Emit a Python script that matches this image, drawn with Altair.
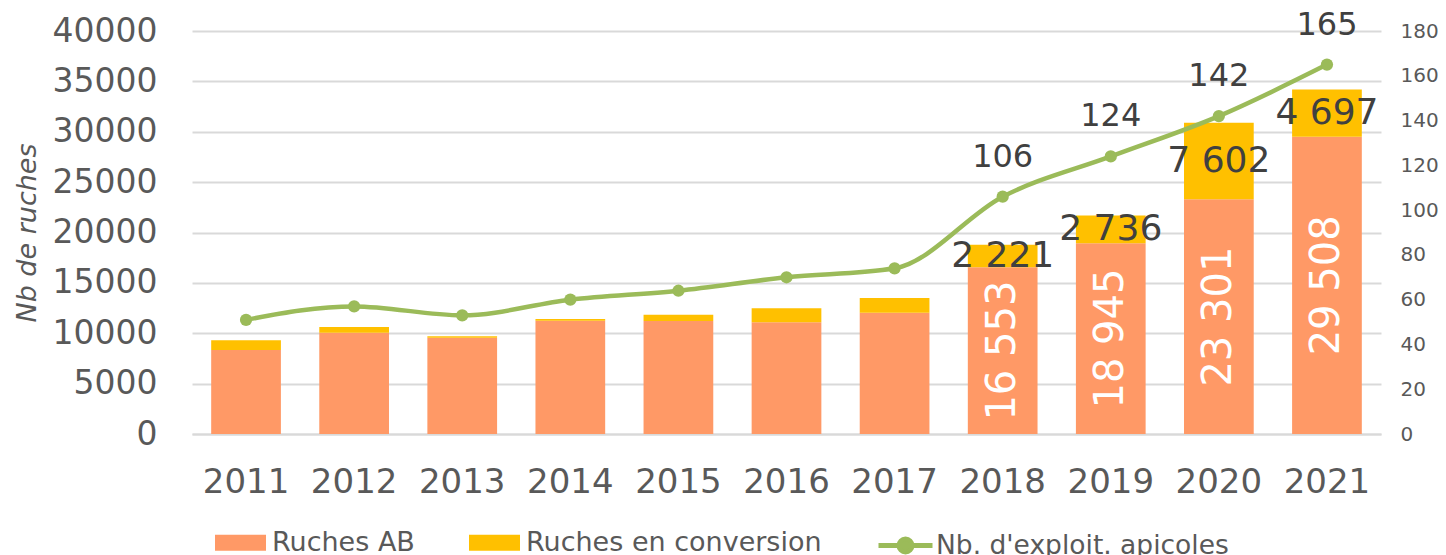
import altair as alt
import pandas as pd

years = [2011, 2012, 2013, 2014, 2015, 2016, 2017, 2018, 2019, 2020, 2021]
ruches_ab = [8340, 10060, 9560, 11250, 11220, 11090, 12040, 16553, 18945, 23301, 29508]
ruches_conv = [960, 560, 140, 160, 620, 1390, 1460, 2221, 2736, 7602, 4697]
exploitations = [51, 57, 53, 60, 64, 70, 74, 106, 124, 142, 165]
labelled_years = [2018, 2019, 2020, 2021]

series_bars = ["Ruches AB", "Ruches en conversion"]
series_line = "Nb. d'exploit. apicoles"

ORANGE = "#FF9966"
YELLOW = "#FFC000"
GREEN = "#9BBB59"
GREY_TXT = "#595959"
DARK_TXT = "#404040"
GRID = "#D9D9D9"
FONT = "DejaVu Sans"


def fmt(v):
    return f"{v:,}".replace(",", " ")


rows = []
for y, a, c in zip(years, ruches_ab, ruches_conv):
    show = y in labelled_years
    rows.append(dict(year=str(y), serie=series_bars[0], start=0, end=a,
                     mid=a / 2, label=fmt(a) if show else ""))
    rows.append(dict(year=str(y), serie=series_bars[1], start=a, end=a + c,
                     mid=a + c / 2, label=fmt(c) if show else ""))
bars_df = pd.DataFrame(rows)

line_df = pd.DataFrame(dict(
    year=[str(y) for y in years],
    n=exploitations,
    serie=[series_line] * len(years),
    label=[str(v) if y in labelled_years else "" for y, v in zip(years, exploitations)],
))

x_axis = alt.Axis(title=None, labelAngle=0, labelFontSize=34, labelFont=FONT,
                  labelColor=GREY_TXT, labelPadding=31, ticks=False, domain=True,
                  domainColor=GRID, domainWidth=2, grid=False)
x_scale = alt.Scale(paddingInner=0.355, paddingOuter=0.1775)


def xenc():
    return alt.X("year:N", scale=x_scale, axis=x_axis, sort=[str(y) for y in years])


yscale_l = alt.Scale(domain=[0, 40000], nice=False)
yscale_r = alt.Scale(domain=[0, 180], nice=False)

y_axis_l = alt.Axis(
    values=list(range(0, 40001, 5000)), format="d", labelFontSize=33,
    labelFont=FONT, labelColor=GREY_TXT, labelPadding=35, ticks=False,
    domain=False, grid=True, gridColor=GRID, gridWidth=2,
    title="Nb de ruches", titleFontStyle="italic", titleFontSize=27,
    titleFont=FONT, titleColor=GREY_TXT, titleFontWeight="normal",
    titleX=-165, titleY=201.5, titleAngle=270, titleAlign="center",
    titleBaseline="middle")

y_axis_r = alt.Axis(
    orient="right", values=list(range(0, 181, 20)), labelFontSize=20,
    labelFont=FONT, labelColor=GREY_TXT, labelPadding=19, ticks=False,
    domain=False, grid=False, title=None)

rect_path = "M-1,-0.3137L1,-0.3137L1,0.3137L-1,0.3137Z"
line_path = ("M-1,0L1,0M-0.24,0A0.24,0.24,0,1,1,0.24,0"
             "A0.24,0.24,0,1,1,-0.24,0Z")

bars = alt.Chart(bars_df).mark_bar().encode(
    x=xenc(),
    y=alt.Y("start:Q", scale=yscale_l, axis=y_axis_l),
    y2="end:Q",
    fill=alt.Fill("serie:N", scale=alt.Scale(domain=series_bars, range=[ORANGE, YELLOW]),
                  legend=alt.Legend(title=None, orient="none", legendX=23, legendY=486,
                                    direction="horizontal", symbolType=rect_path,
                                    symbolSize=2601, symbolStrokeWidth=0,
                                    labelFontSize=27, labelFont=FONT, labelColor=GREY_TXT,
                                    labelOffset=6, columnPadding=54, padding=0,
                                    labelLimit=0)),
    order=alt.Order("serie:N"),
)

ab_text = alt.Chart(bars_df).transform_filter(
    alt.datum.serie == series_bars[0]
).mark_text(angle=270, color="white", fontSize=40, font=FONT,
            baseline="middle", align="center").encode(
    x=xenc(), y=alt.Y("mid:Q", scale=yscale_l, axis=y_axis_l), text="label:N")

conv_text = alt.Chart(bars_df).transform_filter(
    alt.datum.serie == series_bars[1]
).mark_text(color=DARK_TXT, fontSize=36, font=FONT,
            baseline="middle", align="center").encode(
    x=xenc(), y=alt.Y("mid:Q", scale=yscale_l, axis=y_axis_l), text="label:N")

left = alt.layer(bars, ab_text, conv_text)

line = alt.Chart(line_df).mark_line(interpolate="monotone", strokeWidth=4.5).encode(
    x=xenc(),
    y=alt.Y("n:Q", scale=yscale_r, axis=y_axis_r),
    stroke=alt.Stroke("serie:N", scale=alt.Scale(domain=[series_line], range=[GREEN]),
                      legend=alt.Legend(title=None, orient="none", legendX=684, legendY=485,
                                        direction="horizontal", symbolType=line_path,
                                        symbolSize=2916, symbolStrokeWidth=5,
                                        symbolFillColor=GREEN, symbolStrokeColor=GREEN,
                                        labelFontSize=26.5, labelFont=FONT,
                                        labelColor=GREY_TXT, labelOffset=1, padding=0,
                                        labelLimit=0)),
)

pts = alt.Chart(line_df).mark_point(filled=True, size=150, color=GREEN, opacity=1).encode(
    x=xenc(), y=alt.Y("n:Q", scale=yscale_r, axis=y_axis_r))

line_text = alt.Chart(line_df).mark_text(color=DARK_TXT, fontSize=32, font=FONT,
                                         baseline="middle", align="center", dy=-40).encode(
    x=xenc(), y=alt.Y("n:Q", scale=yscale_r, axis=y_axis_r), text="label:N")

right = alt.layer(line, pts, line_text)

chart = alt.layer(left, right).resolve_scale(y="independent").properties(
    width=1189, height=403,
    autosize=alt.AutoSizeParams(type="none"),
    padding={"left": 184, "top": 23, "right": 57, "bottom": 121},
).configure_view(stroke=None)

chart.save("out.html", embed_options={"renderer": "svg", "actions": False})
